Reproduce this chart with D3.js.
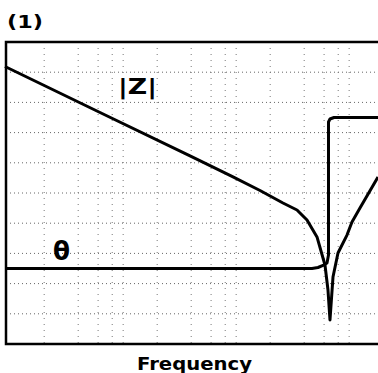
<!DOCTYPE html>
<html>
<head>
<meta charset="utf-8">
<script src="https://cdn.jsdelivr.net/npm/d3@7"></script>
<style>
  html, body { margin: 0; padding: 0; background: #fff; }
  svg { display: block; }
</style>
</head>
<body>
<svg id="chart"></svg>
<script>
// impedance magnitude |Z| vs frequency (Hz, ohm)
const freqZ = [45, 312, 1953, 4594, 8128, 12980, 17270, 21180, 25960, 30550, 32480,
               33830, 35970, 39820, 47840, 52970, 62330, 89980];
const magZ = [3263, 397.8, 54.4, 21.3, 11.2, 6.33, 4.60, 2.91, 1.34, 0.371, 0.118,
              0.030, 0.214, 0.643, 1.46, 2.65, 5.04, 20.8];

// phase angle theta (degrees)
const freqTheta = [45, 23450, 26500, 29340, 31840, 32820, 32820, 33830, 36710, 89980];
const theta = [-90, -90, -88.8, -86.4, -83.5, -73.9, 84.6, 88.2, 90, 90];

// grid: frequency lines at 1..5 x each decade, 10 even divisions vertically
const gridFreqs = [100, 200, 300, 400, 500, 1000, 2000, 3000, 4000, 5000,
                   10000, 20000, 30000, 40000, 50000];
const gridDivs = d3.range(1, 10);

const width = 378, height = 373;
const plot = { left: 6, right: 378, top: 42, bottom: 344 };

const svg = d3.select('#chart')
    .attr('width', width)
    .attr('height', height);

const x = d3.scaleLog()
    .domain([45, 90000])
    .range([plot.left - 1, plot.right]);

const yZ = d3.scaleLog()
    .domain([0.01, 10000])
    .range([plot.bottom, plot.top]);

const yTheta = d3.scaleLinear()
    .domain([-180, 180])
    .range([plot.bottom, plot.top]);

const yDiv = d3.scaleLinear()
    .domain([0, 10])
    .range([plot.bottom, plot.top]);

// dotted grid
svg.append('g')
   .selectAll('line')
   .data(gridDivs)
   .enter()
   .append('line')
   .attr('x1', plot.left)
   .attr('x2', plot.right)
   .attr('y1', d => yDiv(d))
   .attr('y2', d => yDiv(d))
   .attr('stroke', '#666')
   .attr('stroke-width', 1)
   .attr('stroke-dasharray', '1,3');

svg.append('g')
   .selectAll('line')
   .data(gridFreqs)
   .enter()
   .append('line')
   .attr('x1', d => x(d))
   .attr('x2', d => x(d))
   .attr('y1', plot.top)
   .attr('y2', plot.bottom)
   .attr('stroke', '#777')
   .attr('stroke-width', 1)
   .attr('stroke-dasharray', '1,5');

// frame (top, left, bottom)
svg.append('path')
   .attr('d', `M${plot.right},${plot.top}H${plot.left}V${plot.bottom}H${plot.right}`)
   .attr('fill', 'none')
   .attr('stroke', '#000')
   .attr('stroke-width', 2.5);

// curves
const zLine = d3.line()
    .x((d, i) => x(freqZ[i]))
    .y(d => yZ(d));

const thetaLine = d3.line()
    .x((d, i) => x(freqTheta[i]))
    .y(d => yTheta(d));

svg.append('path')
   .datum(magZ)
   .attr('d', zLine)
   .attr('fill', 'none')
   .attr('stroke', '#000')
   .attr('stroke-width', 3)
   .attr('stroke-linejoin', 'round');

svg.append('path')
   .datum(theta)
   .attr('d', thetaLine)
   .attr('fill', 'none')
   .attr('stroke', '#000')
   .attr('stroke-width', 3)
   .attr('stroke-linejoin', 'round');

// labels
svg.append('text')
   .attr('x', 7)
   .attr('y', 28)
   .attr('textLength', 36)
   .attr('lengthAdjust', 'spacingAndGlyphs')
   .style('font', 'bold 17px "DejaVu Sans"')
   .text('(1)');

svg.append('text')
   .attr('x', 118)
   .attr('y', 94)
   .attr('textLength', 39)
   .attr('lengthAdjust', 'spacingAndGlyphs')
   .style('font', 'bold 22px "DejaVu Sans"')
   .text('|Z|');

svg.append('text')
   .attr('x', 53)
   .attr('y', 260)
   .attr('textLength', 17)
   .attr('lengthAdjust', 'spacingAndGlyphs')
   .style('font', 'bold 27px "DejaVu Sans"')
   .text('θ');

svg.append('text')
   .attr('x', 137)
   .attr('y', 370)
   .attr('textLength', 115)
   .attr('lengthAdjust', 'spacingAndGlyphs')
   .style('font', 'bold 17px "DejaVu Sans"')
   .text('Frequency');
</script>
</body>
</html>
